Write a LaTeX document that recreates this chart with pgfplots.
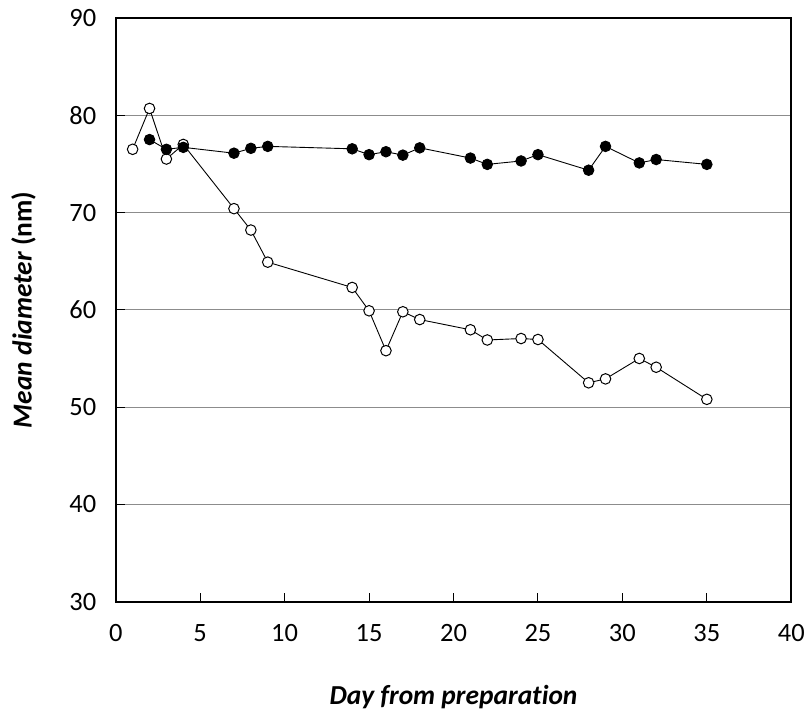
\documentclass[border=0pt]{standalone}
\usepackage{pgfplots}
\pgfplotsset{compat=1.18}
\usepackage{fontspec}
\setmainfont{Carlito}[Ligatures=NoCommon]

% Mean particle diameter against storage time, two formulations
\pgfplotstableread{
day  d
1    76.5
2    80.7
3    75.5
4    77.0
7    70.4
8    68.2
9    64.9
14   62.3
15   59.9
16   55.8
17   59.8
18   59.0
21   57.95
22   56.9
24   57.05
25   56.95
28   52.5
29   52.9
31   55.0
32   54.1
35   50.8
}\openseries

\pgfplotstableread{
day  d
2    77.5
3    76.5
4    76.7
7    76.1
8    76.6
9    76.8
14   76.55
15   75.95
16   76.25
17   75.9
18   76.65
21   75.6
22   74.95
24   75.3
25   75.95
28   74.35
29   76.8
31   75.1
32   75.45
35   74.95
}\filledseries

\begin{document}
\begin{tikzpicture}
\begin{axis}[
  scale only axis,
  width=677pt, height=585pt,
  xmin=0, xmax=40, ymin=30, ymax=90,
  xtick={0,5,...,40}, ytick={30,40,...,90},
  tick align=inside, xtick pos=bottom, ytick pos=left,
  major tick length=9pt,
  tick style={black, line width=1pt},
  axis line style={black, line width=2pt},
  ymajorgrids,
  grid style={black!45, line width=1.2pt},
  /pgf/number format/assume math mode=true,
  ticklabel style={font=\fontsize{26.5}{30}\selectfont},
  xticklabel style={yshift=-19pt},
  yticklabel style={xshift=-16pt},
  label style={font=\fontsize{27.5}{31}\selectfont\bfseries},
  xlabel={\itshape Day from preparation},
  ylabel={\itshape Mean diameter \upshape(nm)},
  xlabel style={yshift=-37pt},
  ylabel style={yshift=27pt},
]
\addplot[black, line width=0.9pt, mark=*, mark size=5.3pt,
  mark options={fill=white, draw=black, line width=1pt}]
  table[x=day, y=d] {\openseries};
\addplot[black, line width=0.9pt, mark=*, mark size=5.3pt,
  mark options={fill=black, draw=black}]
  table[x=day, y=d] {\filledseries};
\end{axis}
\path (current axis.south west) +(-116pt,-108pt)
      (current axis.north east) +(15pt,18pt);
\end{tikzpicture}
\end{document}
